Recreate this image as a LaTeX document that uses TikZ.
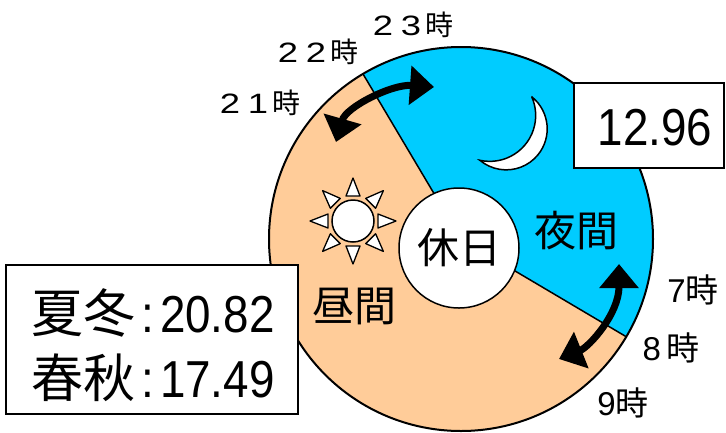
\documentclass[tikz,border=0pt]{standalone}
\usepackage{fontspec}
\setmainfont{Liberation Sans}
\newfontfamily\jp{Noto Sans CJK JP}
\newfontfamily\num[FakeStretch=0.88]{Liberation Sans}
\newfontfamily\wide[FakeStretch=1.3]{Liberation Sans}
\usetikzlibrary{arrows.meta}
\definecolor{dayfill}{HTML}{FFCC99}
\definecolor{nightfill}{HTML}{00CCFF}
\newcommand{\fw}[1]{\makebox[28pt]{\wide #1}}

\begin{document}
\begin{tikzpicture}[x = 1pt, y = -1pt,
    every node/.style = { inner sep = 0pt, align = center },
    valbox/.style = { draw, line width = 1.5pt, fill = white },
    bignum/.style = { font = \fontsize{52}{60}\selectfont\num },
    kanji/.style = { font = \fontsize{42}{48}\selectfont\jp },
    hour/.style = { font = \fontsize{28}{32}\selectfont },
    hourr/.style = { font = \fontsize{33}{36}\selectfont },
    swing/.style = { line width = 7pt,
      {Triangle[length = 24pt 0 0, width = 38pt 0 0]}-{Triangle[length = 24pt 0 0, width = 38pt 0 0]} },
    ray/.style = { draw, fill = white, line width = 1.3pt, line join = round }]
  \useasboundingbox (0,0) rectangle (726,432);
  \coordinate (c) at (461,239);
  \fill[dayfill] (c) circle[radius = 192];
  \fill[nightfill] (c) -- ++(-120.7:192) arc[start angle = -120.7, end angle = 30.6, radius = 192] -- cycle;
  \draw[line width = 1.5pt] (c) -- ++(-120.7:192) (c) -- ++(30.6:192);
  \draw[line width = 2pt] (c) circle[radius = 192];

  \node[draw, fill = white, shape = circle, line width = 1.5pt, minimum size = 42pt] (sun) at (353,221) {};
  \begin{scope}[shift = {(353,221)}]
    \foreach \a in {0,45,...,315}
      \draw[ray, rotate = \a] (25,-7) -- (43,0) -- (25,7) -- cycle;
  \end{scope}
  \filldraw[fill = white, line width = 1.5pt] (532,97) arc[start angle = -51, end angle = 130, radius = 41]
    arc[start angle = 102.5, end angle = -23.4, radius = 45.9] -- cycle;

  \node[draw, fill = white, shape = circle, line width = 1.5pt, minimum size = 120pt, kanji] (hol) at (459,248) {休日};
  \node[kanji] (night) at (576,231) {夜間};
  \node[kanji] (day) at (354,306) {昼間};

  \coordinate (a1) at (336,142);
  \coordinate (a2) at (434,87);
  \coordinate (b1) at (619,264);
  \coordinate (b2) at (559,359);
  \draw[swing] (a1) .. controls +(10,-35) and +(-42,-3) .. (a2);
  \draw[swing] (b1) .. controls +(0,50) and +(30,-12) .. (b2);

  \node[hour] (h23) at (411,25) {\fw{2}\fw{3}{\jp 時}};
  \node[hour] (h22) at (316,52) {\fw{2}\fw{2}{\jp 時}};
  \node[hour] (h21) at (258,103) {\fw{2}\fw{1}{\jp 時}};
  \node[hourr] (h7) at (693,290) {7{\jp 時}};
  \node[hourr] (h8) at (671,348) {8\,{\jp 時}};
  \node[hourr] (h9) at (623,403) {9{\jp 時}};

  \node[valbox, minimum width = 150pt, minimum height = 85pt] (nbox) at (649,125.5) {};
  \node[bignum] (nval) at (655,128) {12.96};
  \node[valbox, minimum width = 292pt, minimum height = 149pt] (dbox) at (152,339.5) {};
  \node[bignum] (sw) at (153,313) {{\jp 夏冬}\hspace{6pt}:\hspace{6pt}20.82};
  \node[bignum] (sa) at (153,378) {{\jp 春秋}\hspace{6pt}:\hspace{6pt}17.49};
\end{tikzpicture}
\end{document}
